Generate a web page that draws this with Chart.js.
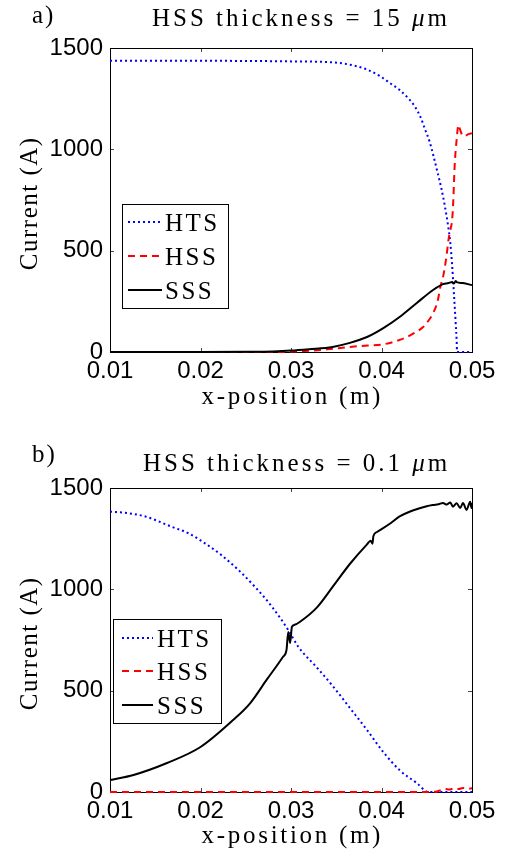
<!DOCTYPE html>
<html>
<head>
<meta charset="utf-8">
<script src="https://cdn.jsdelivr.net/npm/chart.js@4.4.1/dist/chart.umd.min.js"></script>
<style>
    body { margin: 0; background: #fff; }
    canvas { position: absolute; left: 0; }
    #panelA { top: 0; }
    #panelB { top: 427px; }
</style>
</head>
<body>
<canvas id="panelA" width="508" height="427"></canvas>
<canvas id="panelB" width="508" height="427"></canvas>
<script>
// axis ticks (same for both panels)
var xTicks = [0.01, 0.02, 0.03, 0.04, 0.05];
var yTicks = [0, 500, 1000, 1500];
var seriesNames = ['HTS', 'HSS', 'SSS'];

// a) HSS thickness = 15 um
var xA_hts = [0.010, 0.015, 0.020, 0.025, 0.030, 0.0346, 0.037, 0.0385, 0.0398, 0.0410, 0.0420, 0.0430, 0.0437, 0.0443, 0.0448, 0.0453, 0.0457, 0.0462, 0.0466, 0.0470, 0.0473, 0.0476, 0.0478, 0.0480, 0.0482, 0.0483, 0.04835, 0.0500];
var yA_hts = [1437, 1437, 1437, 1436, 1434, 1429, 1413, 1392, 1362, 1325, 1293, 1250, 1210, 1160, 1100, 1040, 975, 885, 810, 720, 640, 540, 430, 290, 140, 60, 0, 0];
var xA_hss = [0.010, 0.028, 0.030, 0.032, 0.034, 0.0365, 0.0385, 0.0402, 0.0415, 0.0428, 0.0438, 0.0446, 0.0452, 0.0457, 0.0462, 0.0465, 0.0468, 0.0470, 0.0472, 0.0474, 0.0476, 0.0478, 0.0479, 0.0481, 0.0483, 0.0485, 0.0487, 0.0489, 0.0492, 0.0496, 0.0500];
var yA_hss = [0, 0, 2, 6, 13, 25, 32, 38, 52, 74, 98, 123, 155, 192, 250, 321, 370, 419, 480, 553, 600, 651, 716, 933, 1046, 1120, 1095, 1072, 1066, 1075, 1080];
var xA_sss = [0.010, 0.020, 0.025, 0.028, 0.030, 0.032, 0.0346, 0.0365, 0.0384, 0.0402, 0.0420, 0.0439, 0.0457, 0.0468, 0.0474, 0.0478, 0.0480, 0.0482, 0.0483, 0.0490, 0.0500];
var yA_sss = [0, 0, 1, 3, 7, 14, 25, 45, 74, 118, 173, 242, 306, 335, 340, 345, 338, 350, 345, 340, 330];

// b) HSS thickness = 0.1 um
var xB_hts = [0.010, 0.012, 0.014, 0.0168, 0.0187, 0.0205, 0.0223, 0.0242, 0.0260, 0.0279, 0.0297, 0.0308, 0.0329, 0.0347, 0.0365, 0.0384, 0.0402, 0.0420, 0.0439, 0.0452, 0.0500];
var yB_hts = [1383, 1376, 1358, 1309, 1276, 1227, 1169, 1095, 1013, 914, 799, 717, 612, 518, 415, 306, 197, 108, 44, 0, 0];
var xB_hss = [0.010, 0.0455, 0.0462, 0.0466, 0.0470, 0.0475, 0.0480, 0.0485, 0.0490, 0.0495, 0.0500];
var yB_hss = [0, 0, 4, 10, 15, 12, 18, 15, 20, 16, 18];
var xB_sss = [0.010, 0.0126, 0.0163, 0.0200, 0.0236, 0.0255, 0.0273, 0.0291, 0.0295, 0.0297, 0.0299, 0.0301, 0.0304, 0.0310, 0.0329, 0.0347, 0.0365, 0.0384, 0.0388, 0.0390, 0.0391, 0.0395, 0.0410, 0.0420, 0.0431, 0.0443, 0.0450, 0.0457, 0.0463, 0.0468, 0.0472, 0.0476, 0.0479, 0.0483, 0.0487, 0.0490, 0.0494, 0.0498, 0.04995, 0.0500];
var yB_sss = [59, 84, 143, 222, 355, 439, 553, 666, 700, 790, 735, 815, 825, 840, 912, 1018, 1125, 1222, 1240, 1225, 1262, 1283, 1326, 1360, 1383, 1401, 1410, 1416, 1420, 1426, 1418, 1428, 1408, 1425, 1401, 1426, 1392, 1432, 1401, 1426];

var SERIF = '"Liberation Serif", "Times New Roman", serif';
var SANS = '"Liberation Sans", Arial, sans-serif';

function toPoints(xs, ys) {
    var pts = [];
    for (var i = 0; i < xs.length; i++) pts.push({ x: xs[i], y: ys[i] });
    return pts;
}

// draw text letter by letter with extra spacing, parts = [[text, italic], ...]
function spacedText(ctx, parts, x, y, size, spacing) {
    var cx = x;
    parts.forEach(function (p) {
        ctx.font = (p[1] ? 'italic ' : '') + size + 'px ' + SERIF;
        for (var i = 0; i < p[0].length; i++) {
            var ch = p[0][i];
            ctx.fillText(ch, cx, y);
            cx += ctx.measureText(ch).width + spacing;
        }
    });
    return cx - x - spacing;
}

function textWidth(ctx, str, size, spacing) {
    ctx.font = size + 'px ' + SERIF;
    var w = 0;
    for (var i = 0; i < str.length; i++) w += ctx.measureText(str[i]).width + spacing;
    return w - spacing;
}

var lineStyles = [
    { color: '#0000ff', dash: [2, 3], width: 2 },
    { color: '#ff0000', dash: [7, 5], width: 2 },
    { color: '#000000', dash: [], width: 2 }
];

// box + inward ticks under the curves, texts and legend on top
var framePlugin = {
    id: 'frame',
    beforeDatasetsDraw: function (chart) {
        var ctx = chart.ctx;
        var a = chart.chartArea;
        var xs = chart.scales.x, ys = chart.scales.y;
        ctx.save();
        ctx.strokeStyle = '#444';
        ctx.lineWidth = 1;
        ctx.beginPath();
        xTicks.forEach(function (t) {
            var px = Math.round(xs.getPixelForValue(t)) + 0.5;
            ctx.moveTo(px, a.bottom); ctx.lineTo(px, a.bottom - 4);
            ctx.moveTo(px, a.top); ctx.lineTo(px, a.top + 4);
        });
        yTicks.forEach(function (t) {
            var py = Math.round(ys.getPixelForValue(t)) + 0.5;
            ctx.moveTo(a.left, py); ctx.lineTo(a.left + 4, py);
            ctx.moveTo(a.right, py); ctx.lineTo(a.right - 4, py);
        });
        ctx.stroke();
        ctx.strokeStyle = '#000';
        ctx.strokeRect(Math.round(a.left) + 0.5, Math.round(a.top) + 0.5, Math.round(a.right - a.left), Math.round(a.bottom - a.top));
        ctx.restore();
    },
    afterDraw: function (chart) {
        var o = chart.options.plugins.frame;
        var ctx = chart.ctx;
        var a = chart.chartArea;
        ctx.save();
        ctx.fillStyle = '#000';
        ctx.textBaseline = 'alphabetic';
        ctx.textAlign = 'left';

        // panel letter + title
        spacedText(ctx, [[o.letter, false]], 32, o.letterY, 25, 2);
        spacedText(ctx, o.title, o.titleX, o.titleY, 25, 3);

        // x label
        var xl = 'x-position (m)';
        var w = textWidth(ctx, xl, 25, 2.7);
        spacedText(ctx, [[xl, false]], (a.left + a.right) / 2 - w / 2, o.xLabelY, 25, 2.7);

        // y label, rotated
        var yl = 'Current (A)';
        var wy = textWidth(ctx, yl, 25, 1.5);
        ctx.save();
        ctx.translate(37, (a.top + a.bottom) / 2 + 4);
        ctx.rotate(-Math.PI / 2);
        spacedText(ctx, [[yl, false]], -wy / 2, 0, 25, 1.5);
        ctx.restore();

        // legend
        var lg = o.legend;
        ctx.fillStyle = '#fff';
        ctx.fillRect(lg.x, lg.y, lg.w, lg.h);
        ctx.strokeStyle = '#000';
        ctx.lineWidth = 1;
        ctx.setLineDash([]);
        ctx.strokeRect(lg.x + 0.5, lg.y + 0.5, lg.w, lg.h);
        seriesNames.forEach(function (name, i) {
            var st = lineStyles[i];
            var ry = lg.rows[i];
            ctx.strokeStyle = st.color;
            ctx.lineWidth = st.width;
            ctx.setLineDash(st.dash);
            ctx.beginPath();
            ctx.moveTo(lg.lineX0, ry);
            ctx.lineTo(lg.lineX1, ry);
            ctx.stroke();
            ctx.setLineDash([]);
            ctx.fillStyle = '#000';
            spacedText(ctx, [[name, false]], lg.textX, ry + 9, 25, 2.5);
        });
        ctx.restore();
    }
};

function makePanel(id, p) {
    var datasets = [];
    p.series.forEach(function (s, i) {
        var st = lineStyles[i];
        datasets.push({
            label: seriesNames[i],
            data: toPoints(s[0], s[1]),
            borderColor: st.color,
            borderDash: st.dash,
            borderWidth: st.width,
            pointRadius: 0,
            cubicInterpolationMode: 'monotone',
            fill: false,
            clip: false,
            order: 3 - i
        });
    });

    return new Chart(document.getElementById(id), {
        type: 'line',
        data: { datasets: datasets },
        plugins: [framePlugin],
        options: {
            responsive: false,
            animation: false,
            devicePixelRatio: 1,
            layout: { padding: { top: p.top, right: 36, left: 0, bottom: 0 } },
            scales: {
                x: {
                    type: 'linear',
                    min: 0.01,
                    max: 0.05,
                    afterFit: function (scale) { scale.height = p.xHeight; },
                    afterBuildTicks: function (scale) {
                        scale.ticks = xTicks.map(function (v) { return { value: v }; });
                    },
                    ticks: {
                        callback: function (v) { return v.toFixed(2); },
                        font: { family: SANS, size: 24 },
                        color: '#000',
                        padding: 5,
                        maxRotation: 0,
                        autoSkip: false
                    },
                    grid: { display: false, drawTicks: false },
                    border: { display: false }
                },
                y: {
                    min: 0,
                    max: 1500,
                    afterFit: function (scale) { scale.width = 110; },
                    afterBuildTicks: function (scale) {
                        scale.ticks = yTicks.map(function (v) { return { value: v }; });
                    },
                    ticks: {
                        callback: function (v) { return String(v); },
                        font: { family: SANS, size: 24 },
                        color: '#000',
                        padding: 7
                    },
                    grid: { display: false, drawTicks: false },
                    border: { display: false }
                }
            },
            plugins: {
                legend: { display: false },
                tooltip: { enabled: false },
                frame: p.frame
            }
        }
    });
}

makePanel('panelA', {
    top: 48,
    xHeight: 75,
    series: [[xA_hts, yA_hts], [xA_hss, yA_hss], [xA_sss, yA_sss]],
    frame: {
        letter: 'a)', letterY: 23,
        title: [['HSS thickness = 15 ', false], ['\u03bc', true], ['m', false]],
        titleX: 152, titleY: 26,
        xLabelY: 404,
        legend: { x: 122, y: 204, w: 106, h: 104, rows: [222, 256, 290], lineX0: 128, lineX1: 162, textX: 165 }
    }
});

makePanel('panelB', {
    top: 61,
    xHeight: 62,
    series: [[xB_hts, yB_hts], [xB_hss, yB_hss], [xB_sss, yB_sss]],
    frame: {
        letter: 'b)', letterY: 35,
        title: [['HSS thickness = 0.1 ', false], ['\u03bc', true], ['m', false]],
        titleX: 143, titleY: 44,
        xLabelY: 416,
        legend: { x: 113, y: 192, w: 108, h: 104, rows: [211, 244, 278], lineX0: 122, lineX1: 153, textX: 157 }
    }
});
</script>
</body>
</html>
